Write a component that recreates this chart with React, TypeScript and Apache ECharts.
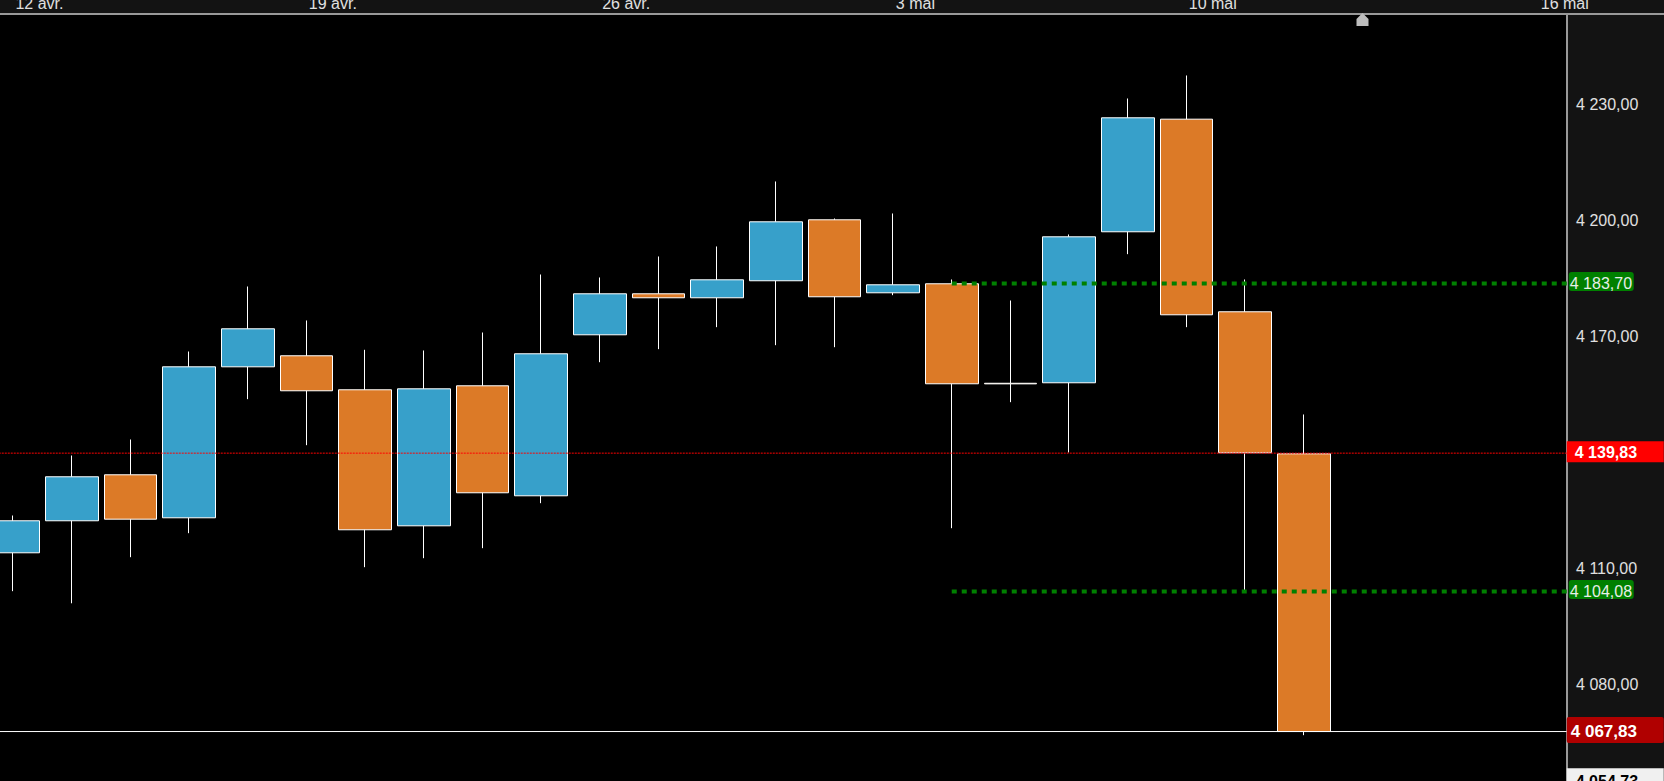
import React, { useEffect, useRef } from "react";
import * as echarts from "echarts";

const FONT = "'Liberation Sans', Arial, sans-serif";

const categories = [
  "9 avr.", "12 avr.", "13 avr.", "14 avr.", "15 avr.", "16 avr.", "19 avr.", "20 avr.", "21 avr.",
  "22 avr.", "23 avr.", "26 avr.", "27 avr.", "28 avr.", "29 avr.", "30 avr.", "3 mai", "4 mai",
  "5 mai", "6 mai", "7 mai", "10 mai", "11 mai", "12 mai", "13 mai", "14 mai", "16 mai",
];
// open, close, low, high
const candles: number[][] = [
  [4114.06, 4122.34, 4104.13, 4123.7],
  [4122.34, 4133.72, 4101.0, 4139.22],
  [4134.23, 4122.75, 4112.92, 4143.36],
  [4123.11, 4162.16, 4119.13, 4166.12],
  [4162.16, 4171.99, 4153.79, 4182.93],
  [4165.01, 4155.96, 4141.89, 4174.14],
  [4156.22, 4120.01, 4110.34, 4166.56],
  [4121.04, 4156.47, 4112.66, 4166.38],
  [4157.25, 4129.58, 4115.25, 4171.03],
  [4128.8, 4165.53, 4126.89, 4186.03],
  [4170.44, 4181.04, 4163.35, 4185.26],
  [4181.04, 4180.01, 4166.72, 4190.69],
  [4180.01, 4184.66, 4172.41, 4193.28],
  [4184.41, 4199.66, 4167.75, 4210.09],
  [4200.18, 4180.27, 4167.23, 4200.52],
  [4181.3, 4183.37, 4180.68, 4201.81],
  [4183.63, 4157.77, 4120.42, 4184.74],
  [4157.9, 4157.75, 4153.01, 4179.31],
  [4158.03, 4195.78, 4140.0, 4196.38],
  [4197.08, 4226.56, 4191.29, 4231.55],
  [4226.2, 4175.61, 4172.41, 4237.5],
  [4176.39, 4139.92, 4104.31, 4184.74],
  [4139.66, 4067.83, 4066.89, 4149.83],
];
const yTicks = [4080, 4110, 4170, 4200, 4230];
const xTickLabels = ["12 avr.", "19 avr.", "26 avr.", "3 mai", "10 mai", "16 mai"];
const xTickSlots = [0.45, 5.45, 10.45, 15.38, 20.45, 26.45];
const greenLevels = [4183.7, 4104.08];
const greenStartSlot = 16;
const redLevel = 4139.83;
const lastLevel = 4067.83;
const bottomLevel = 4054.73;

const fmt = (v: number) => {
  const [i, d] = v.toFixed(2).split(".");
  return i.replace(/\B(?=(\d{3})+$)/g, " ") + "," + d;
};

const levelSeries = (
  level: number,
  startSlot: number,
  lineStyle: any,
  label: any,
  token: any
) => ({
  type: "line",
  xAxisIndex: 1,
  yAxisIndex: 0,
  data: [
    [startSlot, level],
    [26.5, level],
  ],
  showSymbol: false,
  symbol: "none",
  silent: true,
  clip: false,
  z: 5,
  lineStyle,
  endLabel: {
    show: true,
    formatter: () => `{t|${fmt(level)}}`,
    distance: 0,
    align: "left",
    verticalAlign: "middle",
    rich: { t: { fontFamily: FONT, ...token } },
    ...label,
  },
});

export default function App() {
  const ref = useRef<HTMLDivElement>(null);
  useEffect(() => {
    document.body.style.margin = "0";
    document.body.style.background = "#000";
    const chart = echarts.init(ref.current!, undefined, { renderer: "svg" });
    const greenLabel = {
      backgroundColor: "#008000",
      borderRadius: 3,
      padding: [4, 2, 0, 1],
      offset: [1, -2],
    };
    const greenToken = {
      color: "#e8efe8",
      fontSize: 16,
      lineHeight: 15,
      width: 62,
    };
    chart.setOption({
      animation: false,
      backgroundColor: "#131313",
      grid: {
        left: -16.25,
        top: 14,
        width: 1584,
        height: 768.2,
        show: true,
        backgroundColor: "#000",
        borderWidth: 0,
        containLabel: false,
        outerBoundsMode: "none",
      },
      xAxis: [
        {
          type: "category",
          data: categories,
          show: false,
          boundaryGap: true,
        },
        {
          type: "value",
          min: -0.5,
          max: 26.5,
          position: "top",
          axisLine: { show: true, onZero: false, lineStyle: { color: "#999", width: 2 } },
          axisTick: { show: false },
          splitLine: { show: false },
          axisLabel: {
            customValues: xTickSlots,
            formatter: (v: number) => xTickLabels[xTickSlots.indexOf(v)] ?? "",
            color: "#e0e0e0",
            fontFamily: FONT,
            fontSize: 16,
            margin: 3,
          },
        },
      ],
      yAxis: [
        {
          type: "value",
          position: "right",
          offset: -0.7,
          min: bottomLevel,
          max: 4253.4,
          axisLine: { show: true, onZero: false, lineStyle: { color: "#999", width: 2 } },
          axisTick: { show: false },
          splitLine: { show: false },
          axisLabel: {
            customValues: yTicks,
            formatter: (v: number) => fmt(v),
            color: "#e0e0e0",
            fontFamily: FONT,
            fontSize: 16,
            margin: 9,
          },
        },
      ],
      series: [
        {
          type: "candlestick",
          xAxisIndex: 0,
          yAxisIndex: 0,
          barWidth: 53,
          data: candles,
          silent: true,
          z: 2,
          itemStyle: {
            color: "#37a0ca",
            color0: "#dc7a27",
            borderColor: "#fff",
            borderColor0: "#fff",
            borderColorDoji: "#fff",
            borderWidth: 1,
          },
        },
        levelSeries(
          redLevel,
          -0.5,
          { color: "#ff0000", width: 1, type: [2, 1] },
          { backgroundColor: "#ff0000", padding: [2, 0, 0, 8], offset: [-1, -1.5] },
          { color: "#fff", fontSize: 16, fontWeight: "bold", width: 89, lineHeight: 19 }
        ),
        levelSeries(
          lastLevel,
          -0.5,
          { color: "#fff", width: 1 },
          { backgroundColor: "#b00000", borderRadius: 2, padding: [2, 0, 0, 4], offset: [-1, -1.5] },
          { color: "#fff", fontSize: 17, fontWeight: "bold", width: 93, lineHeight: 24 }
        ),
        levelSeries(
          bottomLevel,
          -0.5,
          { opacity: 0 },
          { backgroundColor: "#f0f0f0", padding: [0, 0, 0, 9], offset: [-1, -1] },
          { color: "#000", fontSize: 16, fontWeight: "bold", width: 88, lineHeight: 26 }
        ),
        ...greenLevels.map((l) =>
          levelSeries(l, greenStartSlot, { color: "#008000", width: 4, type: [5, 5] }, greenLabel, greenToken)
        ),
      ],
      graphic: [
        {
          type: "line",
          z: 10,
          shape: { x1: 1567, y1: 14, x2: 1664, y2: 14 },
          style: { stroke: "#999", lineWidth: 2 },
        },
        {
          type: "polygon",
          z: 10,
          shape: {
            points: [
              [1362.5, 13],
              [1368.5, 19],
              [1368.5, 26],
              [1356.5, 26],
              [1356.5, 19],
            ],
          },
          style: { fill: "#bdbdbd" },
        },
      ],
    });
    return () => chart.dispose();
  }, []);
  return (
    <div
      ref={ref}
      style={{ position: "fixed", left: 0, top: 0, width: 1664, height: 781 }}
    />
  );
}
